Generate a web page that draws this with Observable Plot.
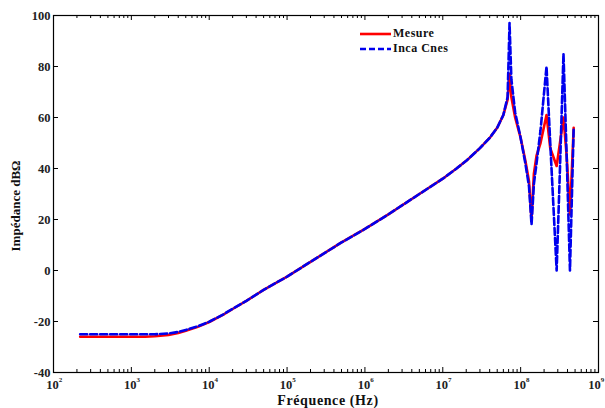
<!DOCTYPE html>
<html>
<head>
<meta charset="utf-8">
<script src="https://cdn.jsdelivr.net/npm/d3@7"></script>
<script src="https://cdn.jsdelivr.net/npm/@observablehq/plot@0.6"></script>
<style>
  html, body { margin: 0; padding: 0; background: #fff; }
  #chart { width: 605px; height: 408px; }
</style>
</head>
<body>
<div id="chart"></div>
<script>
// Frequency (Hz)
const freq = [220, 400, 700, 1000, 1500, 2000, 3000, 4000, 5000, 7000,
  1e4, 1.5e4, 2e4, 3e4, 5e4, 1e5, 2e5, 5e5, 1e6, 2e6, 5e6, 1e7, 1.5e7, 2e7, 3e7,
  4e7, 5e7, 6e7, 6.8e7, 7.2e7, 7.6e7, 8.5e7, 1e8, 1.15e8, 1.28e8, 1.38e8, 1.48e8,
  1.6e8, 1.8e8, 2.15e8, 2.4e8, 2.9e8, 3.2e8, 3.55e8, 3.9e8, 4.3e8, 4.8e8];
// Mesure (dBΩ)
const mesure = [-26, -26, -26, -26, -26, -25.8, -25.3, -24.5, -23.6, -22.2,
  -20.2, -17.4, -15.1, -11.9, -7.6, -2.4, 3.4, 11, 16.3, 22, 30, 36, 40, 43, 48,
  52, 56, 61, 67, 77, 68, 60, 52, 43, 35, 20, 38,
  45, 50, 61, 48, 41, 50, 60, 45, 22, 56];
// Inca Cnes (dBΩ)
const inca = [-25, -25, -25, -25, -25, -25, -24.7, -24.1, -23.3, -22,
  -20.1, -17.3, -15, -11.9, -7.6, -2.4, 3.4, 11, 16.3, 22, 30, 36, 40, 43, 48,
  52, 56, 61, 68, 97, 75, 62, 52, 42, 33, 18, 34,
  42, 55, 80, 50, 0, 40, 85, 45, 0, 56];

const yTicks = [-40, -20, 0, 20, 40, 60, 80, 100];
const xDecades = [1e2, 1e3, 1e4, 1e5, 1e6, 1e7, 1e8, 1e9];
const seriesNames = ["Mesure", "Inca Cnes"];

const font = "'Liberation Serif', 'DejaVu Serif', serif";
const minorTicks = [];
for (const d of xDecades.slice(0, -1)) for (let m = 2; m <= 9; m++) minorTicks.push(d * m);

const rows = freq.map((f, i) => ({f, mesure: mesure[i], inca: inca[i]}));
const xMin = 1e2, xMax = 1e9, yMin = -40, yMax = 100;
const decadePx = 545 / 7;
const yPx = 357 / 140;
const innerDecades = xDecades.slice(0, -1);
const lastDecade = xDecades.slice(-1);
const labelStyle = {fontWeight: "bold", fill: "#222", fontFamily: font};

const plot = Plot.plot({
  width: 605,
  height: 408,
  marginLeft: 53,
  marginRight: 7,
  marginTop: 15,
  marginBottom: 36,
  style: {fontFamily: font, background: "#fff"},
  x: {type: "log", domain: [xMin, xMax], axis: null},
  y: {domain: [yMin, yMax], axis: null},
  marks: [
    // ticks (inward, Matlab style)
    Plot.ruleX(xDecades, {x: d => d, y1: yMin, y2: yMin + 5 / yPx, stroke: "#000", strokeWidth: 1}),
    Plot.ruleX(xDecades, {x: d => d, y1: yMax, y2: yMax - 5 / yPx, stroke: "#000", strokeWidth: 1}),
    Plot.ruleX(minorTicks, {x: d => d, y1: yMin, y2: yMin + 3 / yPx, stroke: "#000", strokeWidth: 1}),
    Plot.ruleX(minorTicks, {x: d => d, y1: yMax, y2: yMax - 3 / yPx, stroke: "#000", strokeWidth: 1}),
    Plot.ruleY(yTicks, {y: d => d, x1: xMin, x2: xMin * Math.pow(10, 5 / decadePx), stroke: "#000", strokeWidth: 1}),
    Plot.ruleY(yTicks, {y: d => d, x1: xMax, x2: xMax / Math.pow(10, 5 / decadePx), stroke: "#000", strokeWidth: 1}),
    Plot.frame({stroke: "#000", strokeWidth: 1.2}),
    // data
    Plot.line(rows, {x: "f", y: "mesure", stroke: "#ff0000", strokeWidth: 2.6}),
    Plot.line(rows, {x: "f", y: "inca", stroke: "#0000ee", strokeWidth: 2.6, strokeDasharray: "7,3"}),
    // tick labels
    Plot.text(yTicks, {x: xMin, y: d => d, text: d => String(d), textAnchor: "end", dx: -3,
      fontSize: 12.5, ...labelStyle}),
    Plot.text(innerDecades, {x: d => d, y: yMin, text: () => "10", dx: -1, dy: 12,
      fontSize: 12.5, ...labelStyle}),
    Plot.text(innerDecades, {x: d => d, y: yMin, text: d => String(Math.round(Math.log10(d))),
      dx: 7, dy: 7, fontSize: 7, ...labelStyle}),
    Plot.text(lastDecade, {x: d => d, y: yMin, text: () => "10", dx: -4, dy: 12,
      fontSize: 12.5, ...labelStyle}),
    Plot.text(lastDecade, {x: d => d, y: yMin, text: d => String(Math.round(Math.log10(d))),
      dx: 4, dy: 7, fontSize: 7, ...labelStyle})
  ]
});

const svg = d3.select(plot);
// axis titles
svg.append("text")
  .attr("x", 328).attr("y", 402)
  .attr("text-anchor", "middle").attr("dominant-baseline", "middle")
  .attr("font-family", font).attr("font-weight", "bold").attr("font-size", 14)
  .attr("letter-spacing", 0.6).attr("fill", "#111")
  .text("Fréquence (Hz)");
svg.append("text")
  .attr("transform", "translate(17,206) rotate(-90)")
  .attr("text-anchor", "middle").attr("dominant-baseline", "middle")
  .attr("font-family", font).attr("font-weight", "bold").attr("font-size", 13)
  .attr("fill", "#111")
  .text("Impédance dBΩ");
// legend
const legend = svg.append("g");
const legendStyles = [
  {stroke: "#ff0000", dash: null},
  {stroke: "#0000ee", dash: "6,3"}
];
seriesNames.forEach((name, i) => {
  const y = 34 + i * 15;
  legend.append("line")
    .attr("x1", 360).attr("x2", 391).attr("y1", y).attr("y2", y)
    .attr("stroke", legendStyles[i].stroke).attr("stroke-width", 2.6)
    .attr("stroke-dasharray", legendStyles[i].dash);
  legend.append("text")
    .attr("x", 393).attr("y", y)
    .attr("text-anchor", "start")
    .attr("dominant-baseline", "middle")
    .attr("font-family", font).attr("font-weight", "bold").attr("font-size", 12)
    .attr("letter-spacing", 0.5).attr("fill", "#111")
    .text(name);
});

document.getElementById("chart").appendChild(plot);
</script>
</body>
</html>
